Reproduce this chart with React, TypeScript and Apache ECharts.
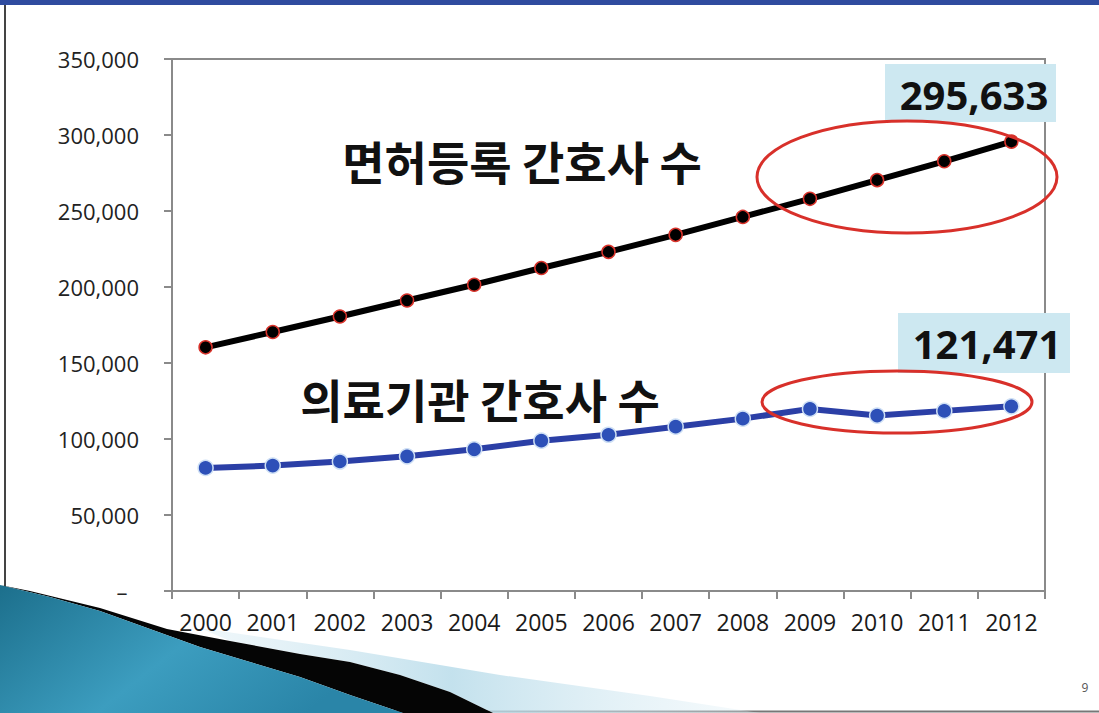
import React, { useEffect, useRef } from "react";
import * as echarts from "echarts";

const years = ["2000", "2001", "2002", "2003", "2004", "2005", "2006", "2007", "2008", "2009", "2010", "2011", "2012"];
const licensedNurses = [160300, 170400, 180600, 191100, 201500, 212500, 223100, 234300, 246100, 258000, 270300, 282700, 295633];
const hospitalNurses = [81000, 82500, 85200, 88600, 93200, 98900, 102800, 108100, 113400, 119800, 115400, 118500, 121471];
const seriesNames = ["면허등록 간호사 수", "의료기관 간호사 수"];
const calloutLabels = ["295,633", "121,471"];

const KR = '"Noto Sans CJK KR", "Noto Sans", sans-serif';
const NUM = '"Open Sans", "Noto Sans", sans-serif';

export default function App() {
  const ref = useRef<HTMLDivElement>(null);
  useEffect(() => {
    if (!ref.current) return;
    const chart = echarts.init(ref.current, undefined, { renderer: "svg" });
    const tealTop = [
      [0, 585], [50, 597], [100, 611], [150, 629], [200, 647], [250, 662], [300, 677], [350, 695], [403, 713],
    ];
    const blackTop = [
      [30, 591], [100, 608], [167, 629], [230, 641], [300, 654], [350, 662], [400, 675], [450, 692], [493, 713],
    ];
    chart.setOption({
      animation: false,
      backgroundColor: "#ffffff",
      grid: {
        left: 172,
        right: 54,
        top: 59,
        bottom: 122,
        show: true,
        borderColor: "#8a8a8a",
        borderWidth: 2,
      },
      xAxis: {
        type: "category",
        data: years,
        boundaryGap: true,
        zlevel: 1,
        z: 5,
        axisLine: { lineStyle: { color: "#8a8a8a", width: 2 } },
        axisTick: { show: true, length: 8, interval: 0, lineStyle: { color: "#8a8a8a", width: 2 } },
        axisLabel: { color: "#1a1a1a", fontFamily: NUM, fontSize: 23, margin: 19, interval: 0, hideOverlap: false },
        splitLine: { show: false },
      },
      yAxis: {
        type: "value",
        min: 0,
        max: 350000,
        interval: 50000,
        axisLine: { show: true, lineStyle: { color: "#8a8a8a", width: 2 } },
        axisTick: { show: true, length: 8, lineStyle: { color: "#8a8a8a", width: 2 } },
        axisLabel: {
          color: "#222",
          fontFamily: NUM,
          fontSize: 22,
          margin: 33,
          formatter: (v: number) => (v === 0 ? "–  " : v.toLocaleString("en-US")),
        },
        splitLine: { show: false },
      },
      series: [
        {
          name: seriesNames[0],
          type: "line",
          data: licensedNurses,
          symbol: "circle",
          symbolSize: 13,
          lineStyle: { color: "#000000", width: 6 },
          itemStyle: { color: "#000000", borderColor: "#d9332b", borderWidth: 1.5 },
          z: 3,
        },
        {
          name: seriesNames[1],
          type: "line",
          data: hospitalNurses,
          symbol: "circle",
          symbolSize: 15,
          lineStyle: { color: "#2b3fa6", width: 6 },
          itemStyle: { color: "#2d50b8", borderColor: "#cfe0f5", borderWidth: 1.5 },
          z: 3,
        },
      ],
      graphic: [
        { type: "rect", z: -5, shape: { x: 0, y: 0, width: 1099, height: 5 }, style: { fill: "#2f4b9f" } },
        { type: "line", z: -5, shape: { x1: 5, y1: 5, x2: 5, y2: 713 }, style: { stroke: "#444", lineWidth: 2 } },
        { type: "line", z: -5, shape: { x1: 0, y1: 711.5, x2: 1099, y2: 711.5 }, style: { stroke: "#777", lineWidth: 2 } },
        {
          type: "polygon",
          z: -4,
          shape: {
            points: [[200, 628], [350, 650], [500, 675], [650, 696], [760, 713], ...blackTop.slice().reverse().slice(0, 6)],
          },
          style: {
            fill: {
              type: "linear", x: 0, y: 0, x2: 1, y2: 0,
              colorStops: [
                { offset: 0, color: "rgba(205,230,240,0.3)" },
                { offset: 0.45, color: "rgba(185,220,234,0.85)" },
                { offset: 1, color: "rgba(225,240,246,0.3)" },
              ],
            },
          },
        },
        {
          type: "polygon",
          z: -3,
          shape: { points: [...blackTop, ...tealTop.slice().reverse()] },
          style: { fill: "#050505" },
        },
        {
          type: "polygon",
          z: -2,
          shape: { points: [[0, 713], ...tealTop] },
          style: {
            fill: {
              type: "linear", x: 0, y: 0, x2: 1, y2: 0.4,
              colorStops: [
                { offset: 0, color: "#1c6f8c" },
                { offset: 0.55, color: "#3c9dbf" },
                { offset: 1, color: "#2a85a8" },
              ],
            },
          },
        },
        {
          type: "text", z: 10, x: 522, y: 160,
          style: { text: seriesNames[0], font: `bold 46px ${KR}`, fill: "#111", align: "center", verticalAlign: "middle" },
        },
        {
          type: "text", z: 10, x: 480, y: 398,
          style: { text: seriesNames[1], font: `bold 46px ${KR}`, fill: "#111", align: "center", verticalAlign: "middle" },
        },
        { type: "rect", z: 10, shape: { x: 885, y: 64, width: 171, height: 58 }, style: { fill: "#cde8f1" } },
        {
          type: "text", z: 11, x: 974, y: 94,
          style: { text: calloutLabels[0], font: `bold 40px ${NUM}`, fill: "#111", align: "center", verticalAlign: "middle" },
        },
        { type: "rect", z: 10, shape: { x: 898, y: 313, width: 172, height: 60 }, style: { fill: "#cde8f1" } },
        {
          type: "text", z: 11, x: 987, y: 343,
          style: { text: calloutLabels[1], font: `bold 40px ${NUM}`, fill: "#111", align: "center", verticalAlign: "middle" },
        },
        {
          type: "ellipse", z: 12,
          shape: { cx: 907, cy: 177, rx: 150, ry: 56 },
          style: { fill: "none", stroke: "#d8302a", lineWidth: 3 },
        },
        {
          type: "ellipse", z: 12,
          shape: { cx: 897, cy: 402, rx: 135, ry: 31 },
          style: { fill: "none", stroke: "#d8302a", lineWidth: 3 },
        },
        {
          type: "text", z: 10, x: 1085, y: 687,
          style: { text: "9", font: `12px ${NUM}`, fill: "#555", align: "center", verticalAlign: "middle" },
        },
      ],
    });
    return () => chart.dispose();
  }, []);
  return <div ref={ref} style={{ position: "fixed", left: 0, top: 0, width: 1099, height: 713 }} />;
}
